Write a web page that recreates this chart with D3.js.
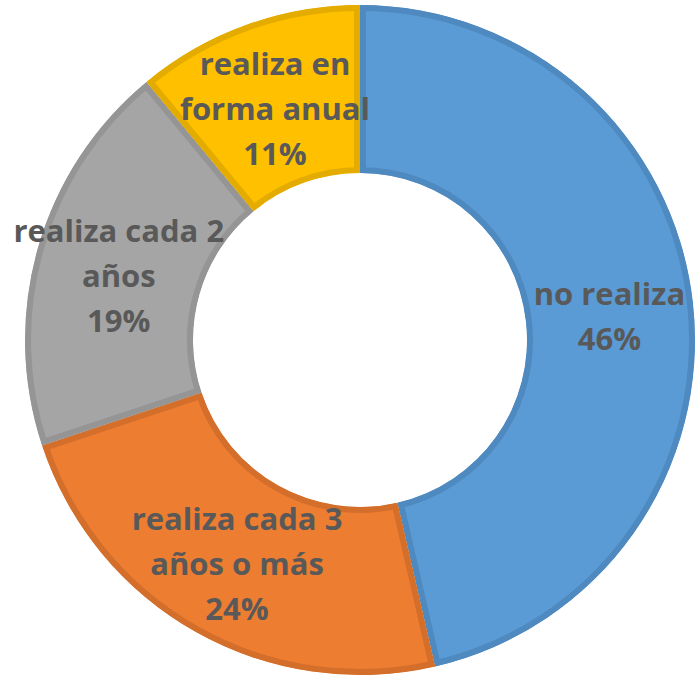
<!DOCTYPE html>
<html>
<head>
<meta charset="utf-8">
<script src="https://cdn.jsdelivr.net/npm/d3@7"></script>
<style>
  html, body { margin: 0; padding: 0; background: #fff; }
  svg { display: block; }
</style>
</head>
<body>
<div id="chart"></div>
<script>
// Data (clockwise from 12 o'clock)
const categories = ["no realiza", "realiza cada 3 años o más", "realiza cada 2 años", "realiza en forma anual"];
const values     = [46.4, 23.5, 19.1, 11.0];
const pctLabels  = ["46%", "24%", "19%", "11%"];
// how the category text wraps in the data label
const labelLines = [
    ["no realiza"],
    ["realiza cada 3", "años o más"],
    ["realiza cada 2", "años"],
    ["realiza en", "forma anual"]
];

const fills   = ["#5B9BD5", "#ED7D31", "#A5A5A5", "#FFC000"];
const borders = ["#4E89BF", "#D36E2B", "#959595", "#E4AB00"];

const width = 696, height = 679;
const cx = 360, cy = 340;
const outerR = 335, innerR = 167;
const lineH = 45;

const data = categories.map((c, i) => ({
    name: c, value: values[i], pct: pctLabels[i], lines: labelLines[i].concat(pctLabels[i]),
    fill: fills[i], border: borders[i]
}));

const pie = d3.pie().value(d => d.value).sort(null);
const arcFn = d3.arc().innerRadius(innerR).outerRadius(outerR);
const labelArc = d3.arc().innerRadius((innerR + outerR) / 2).outerRadius((innerR + outerR) / 2);

const svg = d3.select("#chart").append("svg")
    .attr("width", width)
    .attr("height", height);

const g = svg.append("g").attr("transform", `translate(${cx},${cy})`);
const defs = svg.append("defs");

const arcs = pie(data);

// clip each slice to itself so the border sits on the inside
defs.selectAll("clipPath")
    .data(arcs)
    .join("clipPath")
        .attr("id", (d, i) => `slice-clip-${i}`)
    .append("path")
        .attr("d", arcFn);

g.selectAll("path.slice")
    .data(arcs)
    .join("path")
        .classed("slice", true)
        .attr("d", arcFn)
        .attr("fill", d => d.data.fill)
        .attr("stroke", d => d.data.border)
        .attr("stroke-width", 12)
        .attr("clip-path", (d, i) => `url(#slice-clip-${i})`);

// data labels
const labels = g.selectAll("text.label")
    .data(arcs)
    .join("text")
        .classed("label", true)
        .attr("text-anchor", "middle")
        .attr("font-family", "'Open Sans', 'Noto Sans', sans-serif")
        .attr("font-weight", 700)
        .attr("font-size", 31)
        .attr("fill", "#595959")
        .each(function (d) {
            const [x, y] = labelArc.centroid(d);
            const n = d.data.lines.length;
            d3.select(this).selectAll("tspan")
                .data(d.data.lines)
                .join("tspan")
                    .attr("x", x)
                    .attr("y", (t, j) => y + 16 + (j - (n - 1) / 2) * lineH)
                    .text(t => t);
        });
</script>
</body>
</html>
